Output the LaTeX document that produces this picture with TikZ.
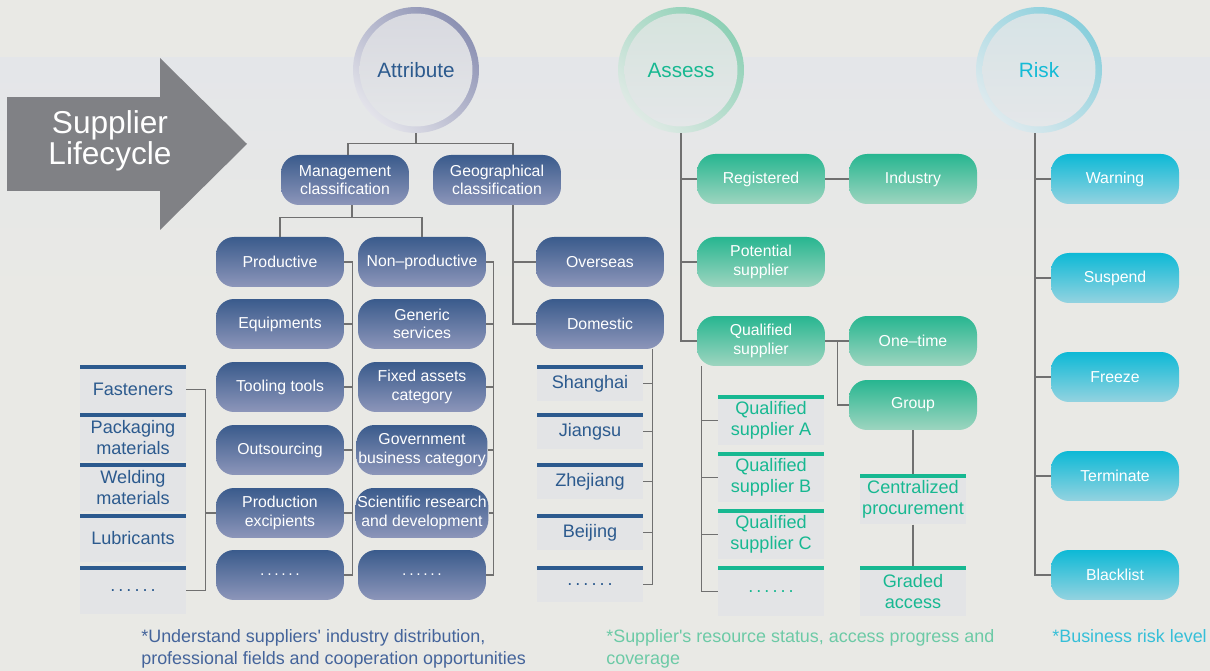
\documentclass[tikz,border=0pt]{standalone}
\usepackage{fontspec}
\setmainfont{Liberation Sans}[Ligatures=TeXOff]
\usepackage{xcolor}
\usepackage{tikz}
\usetikzlibrary{calc}
\definecolor{bg}{HTML}{E9E9E5}
\definecolor{bandtop}{HTML}{E4E6E9}
\definecolor{band}{HTML}{E3E4E6}
\definecolor{arrowgray}{HTML}{808185}
\definecolor{linegray}{HTML}{707070}
\definecolor{navy}{HTML}{2C5A8E}
\definecolor{navytop}{HTML}{3A5B8C}
\definecolor{navybot}{HTML}{8D96BA}
\definecolor{navyring}{HTML}{8C91B3}
\definecolor{navyringlt}{HTML}{E3E3EA}
\definecolor{navyin}{HTML}{D7D8DF}
\definecolor{navynote}{HTML}{44649B}
\definecolor{mint}{HTML}{17B891}
\definecolor{minttop}{HTML}{27B690}
\definecolor{mintbot}{HTML}{9ED5C0}
\definecolor{mintring}{HTML}{8DD0B5}
\definecolor{mintringlt}{HTML}{DFEAE5}
\definecolor{mintin}{HTML}{D5E3DD}
\definecolor{mintnote}{HTML}{6CCAA6}
\definecolor{sky}{HTML}{14BBD6}
\definecolor{skytop}{HTML}{0DB9D6}
\definecolor{skybot}{HTML}{94D3E0}
\definecolor{skyring}{HTML}{89CFDC}
\definecolor{skyringlt}{HTML}{DEEAEE}
\definecolor{skyin}{HTML}{D6E3E6}
\definecolor{skynote}{HTML}{35BFD8}
\definecolor{innerlow}{HTML}{E5E7E9}
\newcommand{\sixdots}{.\,.\,.\,.\,.\,.}
\tikzset{
  box/.style={rounded corners=0.36cm, minimum width=2.56cm, minimum height=1cm,
    inner sep=1pt, align=center, text=white, font=\fontsize{9}{10.4}\selectfont,
    top color=#1top, bottom color=#1bot},
  hub/.style={circle, minimum size=2.52cm, inner sep=0pt, text=#1,
    font=\fontsize{11.8}{13}\selectfont,
    top color=#1ring, bottom color=#1ringlt, shading angle=-45,
    path picture={\shade[top color=#1in, bottom color=innerlow]
      (path picture bounding box.center) circle (1.13cm);}},
  item/.style={anchor=north, minimum width=2.12cm, inner sep=0pt, fill=band,
    align=center, text=#1, font=\fontsize{10.3}{12}\selectfont,
    path picture={\draw[#1, line width=0.16cm] (path picture bounding box.north west)
      -- (path picture bounding box.north east);}},
  link/.style={draw=linegray, line width=0.6pt},
  note/.style={anchor=north west, align=left, inner sep=0pt,
    font=\fontsize{10.2}{12.5}\selectfont}
}
\begin{document}
\begin{tikzpicture}[x=0.02cm,y=-0.02cm]
\fill[bg] (0,0) rectangle (1210,671);
\shade[top color=bandtop, bottom color=bg] (0,58) rectangle (1210,300);
% lifecycle arrow
\fill[arrowgray] (7,97) rectangle (160,191);
\fill[arrowgray] (160,58) -- (247,144) -- (160,230) -- cycle;
\node[text=white, align=center, font=\fontsize{18}{17.5}\selectfont] (life) at (110,141) {Supplier\\Lifecycle};

\node[hub=navy] (attr) at (416,70) {Attribute};
\node[hub=mint] (assess) at (681,70) {Assess};
\node[hub=sky] (risk) at (1039,70) {Risk};

% attribute
\node[box=navy] (mgmt) at (345,180) {Management\\classification};
\node[box=navy] (geo) at (497,180) {Geographical\\classification};
\node[box=navy] (prod) at (280,262) {Productive};
\node[box=navy] (equip) at (280,324) {Equipments};
\node[box=navy] (tool) at (280,387) {Tooling tools};
\node[box=navy] (outs) at (280,450) {Outsourcing};
\node[box=navy] (exci) at (280,513) {Production\\excipients};
\node[box=navy] (pdots) at (280,575) {\sixdots};
\node[box=navy] (nonp) at (422,262) {Non–productive};
\node[box=navy] (gens) at (422,324) {Generic\\services};
\node[box=navy] (fixa) at (422,387) {Fixed assets\\category};
\node[box=navy] (gov) at (422,450) {Government\\business category};
\node[box=navy] (sci) at (422,513) {Scientific research\\and development};
\node[box=navy] (ndots) at (422,575) {\sixdots};
\node[box=navy] (over) at (600,262) {Overseas};
\node[box=navy] (dom) at (600,324) {Domestic};

\node[item=navy, minimum height=0.96cm] (fast) at (133,365) {Fasteners};
\node[item=navy, minimum height=0.96cm] (pack) at (133,413) {Packaging\\materials};
\node[item=navy, minimum height=0.96cm] (weld) at (133,463) {Welding\\materials};
\node[item=navy, minimum height=0.96cm] (lubr) at (133,514) {Lubricants};
\node[item=navy, minimum height=0.96cm] (ldots) at (133,566) {\sixdots};

\node[item=navy, minimum height=0.72cm] (shang) at (590,365) {Shanghai};
\node[item=navy, minimum height=0.72cm] (jiang) at (590,413) {Jiangsu};
\node[item=navy, minimum height=0.72cm] (zhe) at (590,463) {Zhejiang};
\node[item=navy, minimum height=0.72cm] (beij) at (590,514) {Beijing};
\node[item=navy, minimum height=0.72cm] (rdots) at (590,566) {\sixdots};

\draw[link] (attr.south) -- ++(0,10) coordinate (af);
\draw[link] ([xshift=0.06cm]mgmt.north) |- (af) -| ([xshift=0.32cm]geo.north);
\draw[link] ([xshift=0.14cm]mgmt.south) -- ++(0,12) coordinate (mf);
\draw[link] (prod.north) |- (mf) -| (nonp.north);
\draw[link] ([xshift=0.32cm]geo.south) |- (dom.west);
\draw[link] ([xshift=0.32cm]geo.south) |- (over.west);
\draw[link] (prod.east) -- ++(8,0) coordinate (pv) |- (pdots.east);
\foreach \n in {equip,tool,outs,exci} \draw[link] (\n.east) -- (\n.east -| pv);
\draw[link] (nonp.east) -- ++(7,0) coordinate (nv) |- (ndots.east);
\foreach \n in {gens,fixa,gov,sci} \draw[link] (\n.east) -- (\n.east -| nv);
\draw[link] (fast.east) -- ++(19,0) coordinate (lv) |- (ldots.east);
\draw[link] (exci.west) -- (exci.west -| lv);
\draw[link] ([xshift=-0.24cm]dom.south east) coordinate (dv) |- (rdots.east);
\foreach \n in {shang,jiang,zhe,beij} \draw[link] (\n.east) -- (\n.east -| dv);

% assess
\node[box=mint] (reg) at (761,179) {Registered};
\node[box=mint] (ind) at (913,179) {Industry};
\node[box=mint] (pot) at (761,262) {Potential\\supplier};
\node[box=mint] (qual) at (761,341) {Qualified\\supplier};
\node[box=mint] (one) at (913,341) {One–time};
\node[box=mint] (grp) at (913,405) {Group};

\node[item=mint, minimum height=1cm] (qa) at (771,395) {Qualified\\supplier A};
\node[item=mint, minimum height=1cm] (qb) at (771,452) {Qualified\\supplier B};
\node[item=mint, minimum height=1cm] (qc) at (771,509) {Qualified\\supplier C};
\node[item=mint, minimum height=1cm] (qdots) at (771,566) {\sixdots};
\node[item=mint, minimum height=1cm] (cent) at (913,474) {Centralized\\procurement};
\node[item=mint, minimum height=1cm] (grad) at (913,566) {Graded\\access};

\draw[link] (assess.south) |- (qual.west);
\foreach \n in {reg,pot} \draw[link] (\n.west) -- (\n.west -| assess.south);
\draw[link] (reg.east) -- (ind.west);
\draw[link] (qual.east) -- (one.west);
\draw[link] ([xshift=0.24cm]qual.east) |- (grp.west);
\draw[link] ([xshift=0.1cm]qual.south west) coordinate (qv) |- (qdots.west);
\foreach \n in {qa,qb,qc} \draw[link] (\n.west) -- (\n.west -| qv);
\draw[link] (grp.south) -- (cent.north);
\draw[link] (cent.south) -- (grad.north);

% risk
\node[box=sky] (warn) at (1115,179) {Warning};
\node[box=sky] (susp) at (1115,278) {Suspend};
\node[box=sky] (frz) at (1115,377) {Freeze};
\node[box=sky] (term) at (1115,476) {Terminate};
\node[box=sky] (black) at (1115,575) {Blacklist};
\draw[link] ([xshift=-0.08cm]risk.south) coordinate (rv) |- (black.west);
\foreach \n in {warn,susp,frz,term} \draw[link] (\n.west) -- (\n.west -| rv);

% notes
\node[note, text=navynote] (fn1) at (141,629) {*Understand suppliers' industry distribution,\\professional fields and cooperation opportunities};
\node[note, text=mintnote] (fn2) at (606,629) {*Supplier's resource status, access progress and\\coverage};
\node[note, text=skynote] (fn3) at (1052,629) {*Business risk level};
\end{tikzpicture}
\end{document}
